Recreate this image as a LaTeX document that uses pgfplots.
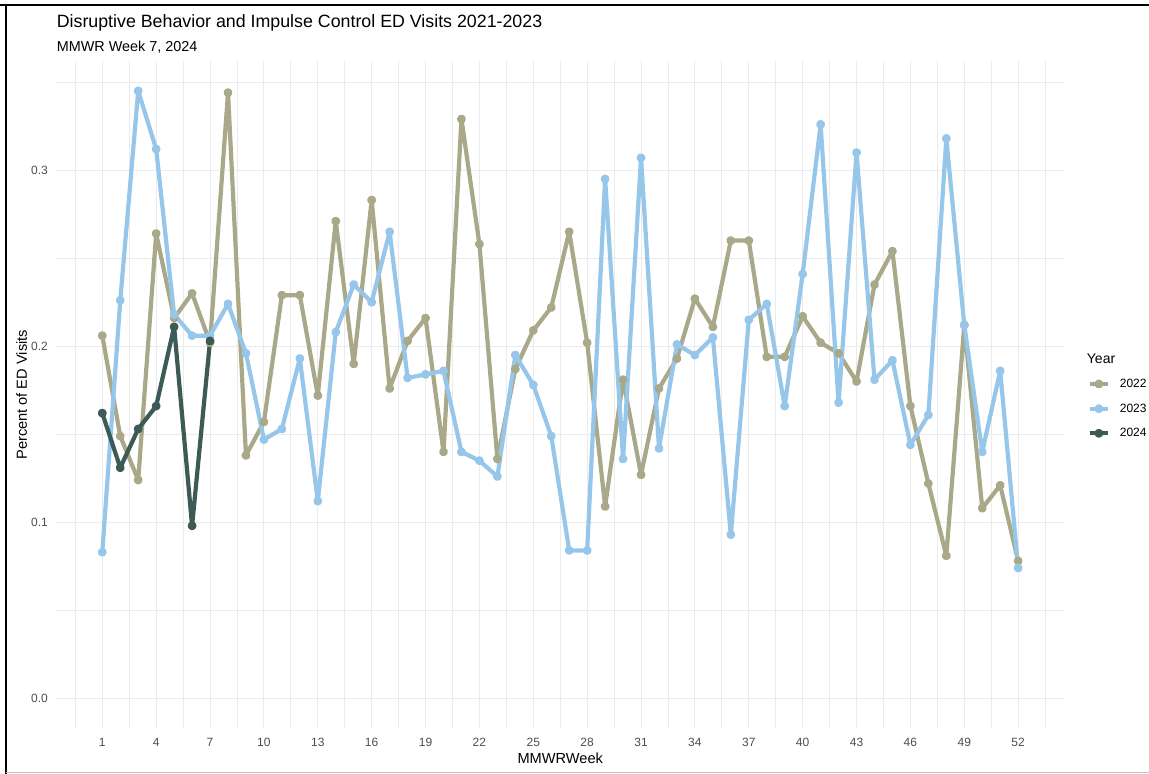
\documentclass[border=0pt]{standalone}
\usepackage{pgfplots}
\pgfplotsset{compat=1.18}
\usepackage{fontspec}
\setmainfont{Liberation Sans}
\definecolor{c22}{HTML}{A9A98A}
\definecolor{c23}{HTML}{96C7EB}
\definecolor{c24}{HTML}{3D5B56}
\definecolor{gridc}{HTML}{EBEBEB}
\definecolor{tickc}{HTML}{4D4D4D}
\begin{document}
\begin{tikzpicture}
\path[use as bounding box] (0pt,0pt) rectangle (1149pt,-774pt);
\draw[black, line width=2.2pt] (0pt,-5pt) -- (1149pt,-5pt);
\draw[black, line width=2.2pt] (6pt,-5pt) -- (6pt,-774pt);
\draw[gray!45, line width=1.5pt] (6pt,-772.5pt) -- (1149pt,-772.5pt);
\node[anchor=base west, inner sep=0pt, font=\fontsize{17.8}{21}\selectfont] at (56.6pt,-27.3pt) {Disruptive Behavior and Impulse Control ED Visits 2021-2023};
\node[anchor=base west, inner sep=0pt, font=\fontsize{14.4}{17}\selectfont] at (56.6pt,-51.7pt) {MMWR Week 7, 2024};
\node[anchor=base west, inner sep=0pt, font=\fontsize{14}{17}\selectfont] at (1086.7pt,-363.3pt) {Year};
\begin{axis}[
  at={(56.5pt,-728.7pt)}, anchor=south west,
  scale only axis, width=1007.5pt, height=667.7pt,
  xmin=-1.55, xmax=54.55, ymin=-0.01725, ymax=0.362,
  axis line style={draw=none},
  major tick length=0pt, minor tick length=0pt,
  xtick={1,4,...,52},
  minor xtick={-0.5,2.5,...,53.5},
  ytick={0,0.1,0.2,0.3},
  yticklabels={0.0,0.1,0.2,0.3},
  minor ytick={0.05,0.15,0.25,0.35},
  grid=both,
  major grid style={draw=gridc, line width=1pt},
  minor grid style={draw=gridc, line width=0.8pt},
  /pgf/number format/assume math mode=true,
  xticklabel style={font=\fontsize{12}{14}\selectfont, text=tickc, inner sep=0pt, anchor=north, yshift=-9.6pt},
  yticklabel style={font=\fontsize{12}{14}\selectfont, text=tickc, inner sep=0pt, anchor=east, xshift=-8.5pt},
  xlabel={MMWRWeek},
  ylabel={Percent of ED Visits},
  xlabel style={at={(axis description cs:0.5,-0.0449)}, anchor=center, inner sep=0pt, font=\fontsize{14.6}{17}\selectfont},
  ylabel style={at={(axis description cs:-0.0347,0.5)}, anchor=center, inner sep=0pt, font=\fontsize{14.6}{17}\selectfont},
  legend style={at={(axis description cs:1.0235,0.5237)}, anchor=north west, draw=none, fill=none, inner sep=0pt, outer sep=0pt, row sep=14.8pt, column sep=9.7pt,
    nodes={inner sep=0pt, font=\fontsize{12}{14}\selectfont}},
  legend cell align=left,
  legend image code/.code={\draw[line width=4.2pt] (0pt,0pt) -- (18.3pt,0pt); \fill (9.15pt,0pt) circle (2.3pt);},
  every axis plot/.append style={line width=4.2pt, line join=round, mark=*, mark size=2.3pt, mark options={line width=0pt}},
  clip=false,
]
\addplot[c22, mark options={fill=c22, draw=c22}] coordinates {
(1,0.206) (2,0.149) (3,0.124) (4,0.264) (5,0.216) (6,0.230) (7,0.202) (8,0.344)
(9,0.138) (10,0.157) (11,0.229) (12,0.229) (13,0.172) (14,0.271) (15,0.190) (16,0.283)
(17,0.176) (18,0.203) (19,0.216) (20,0.140) (21,0.329) (22,0.258) (23,0.136) (24,0.187)
(25,0.209) (26,0.222) (27,0.265) (28,0.202) (29,0.109) (30,0.181) (31,0.127) (32,0.176)
(33,0.193) (34,0.227) (35,0.211) (36,0.260) (37,0.260) (38,0.194) (39,0.194) (40,0.217)
(41,0.202) (42,0.196) (43,0.180) (44,0.235) (45,0.254) (46,0.166) (47,0.122) (48,0.081)
(49,0.212) (50,0.108) (51,0.121) (52,0.078)};
\addlegendentry{2022}
\addplot[c23, mark options={fill=c23, draw=c23}] coordinates {
(1,0.083) (2,0.226) (3,0.345) (4,0.312) (5,0.218) (6,0.206) (7,0.206) (8,0.224)
(9,0.196) (10,0.147) (11,0.153) (12,0.193) (13,0.112) (14,0.208) (15,0.235) (16,0.225)
(17,0.265) (18,0.182) (19,0.184) (20,0.186) (21,0.140) (22,0.135) (23,0.126) (24,0.195)
(25,0.178) (26,0.149) (27,0.084) (28,0.084) (29,0.295) (30,0.136) (31,0.307) (32,0.142)
(33,0.201) (34,0.195) (35,0.205) (36,0.093) (37,0.215) (38,0.224) (39,0.166) (40,0.241)
(41,0.326) (42,0.168) (43,0.310) (44,0.181) (45,0.192) (46,0.144) (47,0.161) (48,0.318)
(49,0.212) (50,0.140) (51,0.186) (52,0.074)};
\addlegendentry{2023}
\addplot[c24, mark options={fill=c24, draw=c24}] coordinates {
(1,0.162) (2,0.131) (3,0.153) (4,0.166) (5,0.211) (6,0.098) (7,0.203)};
\addlegendentry{2024}
\end{axis}
\end{tikzpicture}
\end{document}
